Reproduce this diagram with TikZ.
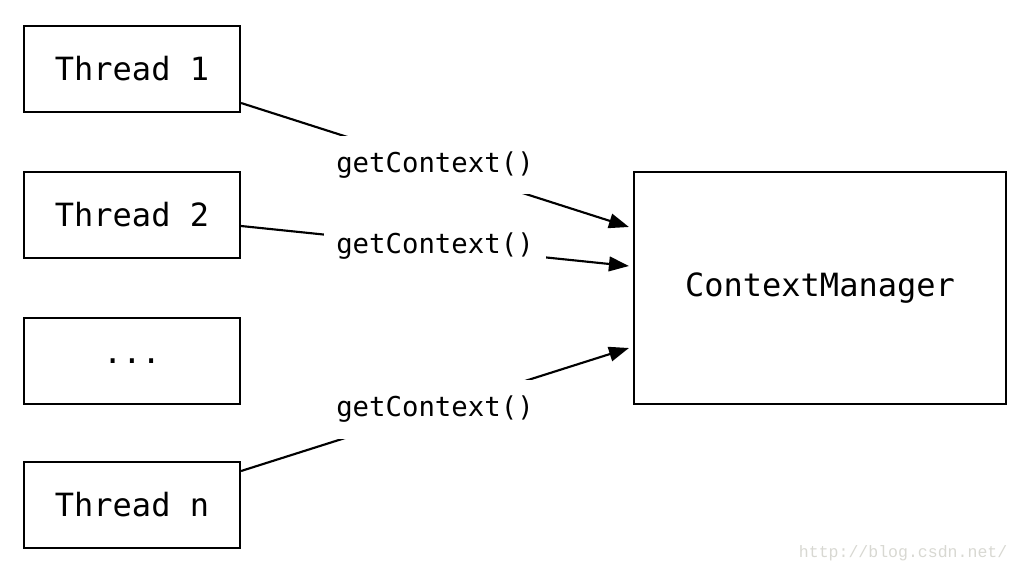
\documentclass[tikz,border=0pt]{standalone}
\usepackage{fontspec}
\setmainfont{DejaVu Sans Mono}
\newfontfamily\wmfont{Liberation Mono}
\usetikzlibrary{calc,arrows.meta}
\definecolor{wmgray}{RGB}{216,216,210}
\tikzset{
  box/.style={draw=black, line width=1.6pt, fill=white, minimum width=162pt, minimum height=64.5pt, inner sep=0pt, font=\fontsize{24pt}{28pt}\selectfont},
  bigbox/.style={box, minimum width=279pt, minimum height=174pt},
  conn/.style={draw=black, line width=1.6pt, -{Triangle[length=15pt,width=11pt]}},
  lbl/.style={fill=white, inner xsep=9pt, inner ysep=12pt, font=\fontsize{20.5pt}{24pt}\selectfont}
}
\begin{document}
\begin{tikzpicture}[x=0.75pt,y=-0.75pt]
\useasboundingbox (0,0) rectangle (1024,575);
\node[box] (t1) at (132,69) {Thread 1};
\node[box] (t2) at (132,215) {Thread 2};
\node[box] (t3) at (132,361) {...};
\node[box] (tn) at (132,505) {Thread n};
\node[bigbox] (cm) at (820,288) {ContextManager};
\coordinate (e1) at ($(cm.west)+(-4,-61)$);
\coordinate (e2) at ($(cm.west)+(-4,-22)$);
\coordinate (en) at ($(cm.west)+(-4,60)$);
\draw[conn] ($(t1.east)+(0,34)$) -- node[lbl] (l1) {getContext()} (e1);
\draw[conn] ($(t2.east)+(0,11)$) -- node[lbl] (l2) {getContext()} (e2);
\draw[conn] ($(tn.east)+(0,-34)$) -- node[lbl] (ln) {getContext()} (en);
\node[font=\wmfont\fontsize{12.4pt}{14pt}\selectfont, text=wmgray, anchor=east] (wm) at (1012,553) {http://blog.csdn.net/};
\end{tikzpicture}
\end{document}
